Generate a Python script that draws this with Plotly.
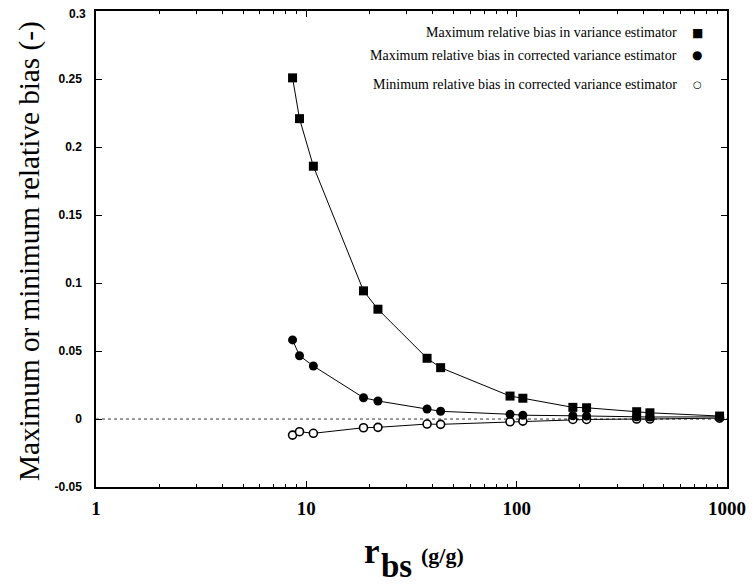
import plotly.graph_objects as go

# Data
r_bs = [8.6, 9.28, 10.8, 18.7, 21.9, 37.5, 43.5, 93.0, 107.0, 185.0, 215.0, 372.0, 430.0, 922.0]
max_bias_var = [0.251, 0.221, 0.186, 0.0943, 0.0808, 0.0447, 0.0378, 0.0169, 0.0153,
                0.0086, 0.0083, 0.0054, 0.0046, 0.0022]
max_bias_corr = [0.0582, 0.0466, 0.039, 0.0157, 0.0133, 0.0074, 0.0057, 0.0035, 0.0028,
                 0.0024, 0.0022, 0.0016, 0.0015, 0.0016]
min_bias_corr = [-0.0118, -0.0093, -0.0105, -0.0064, -0.0061, -0.0037, -0.0039, -0.002,
                 -0.0015, -0.0003, -0.0003, 0.0, 0.0, 0.0007]

series_names = ["Maximum relative bias in variance estimator",
                "Maximum relative bias in corrected variance estimator",
                "Minimum relative bias in corrected variance estimator"]
legend_glyphs = ["\u25A0", "\u25CF", "\u25CB"]

x_tickvals = [1, 10, 100, 1000]
x_ticktext = ["1", "10", "100", "1000"]
y_tickvals = [-0.05, 0, 0.05, 0.1, 0.15, 0.2, 0.25, 0.3]
y_ticktext = ["-0.05", "0", "0.05", "0.1", "0.15", "0.2", "0.25", "0.3"]

serif = "Liberation Serif, Times New Roman, serif"
sans = "Liberation Sans, Arial, sans-serif"

# page-pixel helpers (plot area in the page: x 96..727, y 11..487)
PX0, PX1, PY0, PY1 = 96, 727, 11, 487
def px(v):
    return (v - PX0) / (PX1 - PX0)
def py(v):
    return (PY1 - v) / (PY1 - PY0)

fig = go.Figure()

fig.add_trace(go.Scatter(
    x=r_bs, y=min_bias_corr, mode="lines+markers", name=series_names[2],
    line=dict(color="black", width=1),
    marker=dict(symbol="circle", size=8, color="white", line=dict(color="black", width=1.6)),
))
fig.add_trace(go.Scatter(
    x=r_bs, y=max_bias_var, mode="lines+markers", name=series_names[0],
    line=dict(color="black", width=1),
    marker=dict(symbol="square", size=9, color="black"),
))
fig.add_trace(go.Scatter(
    x=r_bs, y=max_bias_corr, mode="lines+markers", name=series_names[1],
    line=dict(color="black", width=1),
    marker=dict(symbol="circle", size=9, color="black"),
))

# dotted zero line
fig.add_shape(type="line", xref="paper", yref="y", x0=0, x1=1, y0=0, y1=0,
              line=dict(color="black", width=0.8, dash="dot"), layer="below")

# legend (text right aligned, symbol at the right)
legend_y = [33, 55, 84]
for name, glyph, yy, gs in zip(series_names, legend_glyphs, legend_y, [12, 12, 10]):
    fig.add_annotation(xref="paper", yref="paper", x=px(679), y=py(yy),
                       text=name, showarrow=False, xanchor="right", yanchor="middle",
                       font=dict(family=serif, size=14, color="black"))
    fig.add_annotation(xref="paper", yref="paper", x=px(697), y=py(yy),
                       text=glyph, showarrow=False, xanchor="center", yanchor="middle",
                       font=dict(family="DejaVu Sans", size=gs, color="black"))

# x-axis title: r, subscript bs, (g/g)
x_title_parts = [("r", 35, 362, 551), ("bs", 33, 379, 566), ("(g/g)", 22, 419, 555)]
for txt, fs, xl, ym in x_title_parts:
    fig.add_annotation(xref="paper", yref="paper", x=px(xl), y=py(ym),
                       xanchor="left", yanchor="middle", showarrow=False,
                       text="<b>" + txt + "</b>",
                       font=dict(family=serif, size=fs, color="black"))

# y-axis title
fig.add_annotation(xref="paper", yref="paper", x=px(29), y=py(251),
                   yanchor="middle", xanchor="center", showarrow=False, textangle=-90,
                   text="Maximum or minimum relative bias (-)",
                   font=dict(family=serif, size=29.2, color="black"))

# top y tick label drawn as an annotation so that it stays inside the page
ytick_font = dict(family=sans, size=12, color="black", weight="bold")
fig.add_annotation(xref="paper", yref="y", x=0, y=y_tickvals[-1],
                   xanchor="right", yanchor="middle", xshift=-8, yshift=-3,
                   showarrow=False, text=y_ticktext[-1], font=ytick_font)
y_ticktext_axis = y_ticktext[:-1] + [""]

W, H = 747, 576  # page has an 8px body margin
fig.update_layout(
    template="none",
    width=W, height=H,
    margin=dict(l=PX0 - 8, r=W - (PX1 - 8), t=PY0 - 8, b=H - (PY1 - 8)),
    paper_bgcolor="white", plot_bgcolor="white",
    showlegend=False,
    xaxis=dict(
        type="log", range=[0, 3], automargin=False,
        tickvals=x_tickvals, ticktext=x_ticktext,
        ticks="inside", ticklen=6, tickcolor="black", tickwidth=1,
        showline=True, linecolor="black", linewidth=1.5, mirror="ticks",
        showgrid=False, zeroline=False, ticklabelstandoff=3,
        ticklabeloverflow="allow",
        tickfont=dict(family=serif, size=19, color="black", weight="bold"),
        minor=dict(tickvals=[2, 3, 4, 5, 6, 7, 8, 9, 20, 30, 40, 50, 60, 70, 80, 90,
                             200, 300, 400, 500, 600, 700, 800, 900],
                   ticks="inside", ticklen=3, tickcolor="black", showgrid=False),
    ),
    yaxis=dict(
        range=[-0.05, 0.3002], automargin=False,
        tickvals=y_tickvals, ticktext=y_ticktext_axis,
        ticks="inside", ticklen=6, tickcolor="black", tickwidth=1,
        showline=True, linecolor="black", linewidth=1.5, mirror="ticks",
        showgrid=False, zeroline=False, ticklabelstandoff=10,
        ticklabeloverflow="allow",
        tickfont=ytick_font,
    ),
)

fig.write_html("out.html")
